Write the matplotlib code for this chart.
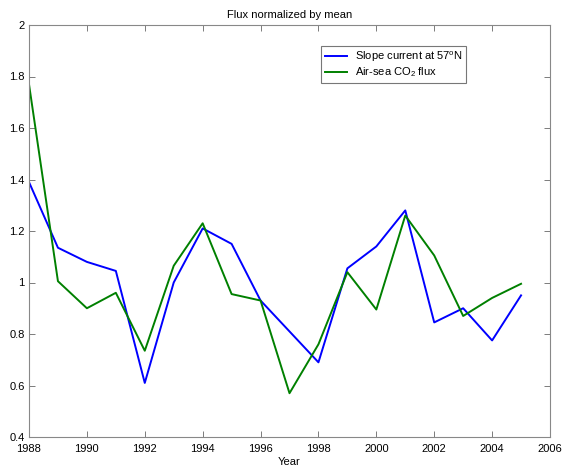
import matplotlib
matplotlib.use("Agg")
import matplotlib.pyplot as plt

plt.rcParams['font.family'] = ['Liberation Sans', 'DejaVu Sans']
plt.rcParams['mathtext.fontset'] = 'custom'
plt.rcParams['mathtext.rm'] = 'Liberation Sans'

years = list(range(1988, 2006))
slope_current = [1.39, 1.135, 1.08, 1.045, 0.61, 1.0, 1.21, 1.15, 0.93, 0.81,
                 0.69, 1.055, 1.14, 1.28, 0.845, 0.90, 0.775, 0.95]
co2_flux = [1.77, 1.005, 0.90, 0.96, 0.735, 1.065, 1.23, 0.955, 0.93, 0.57,
            0.76, 1.04, 0.895, 1.26, 1.105, 0.87, 0.94, 0.995]
xticks = list(range(1988, 2007, 2))
yticks = [0.4, 0.6, 0.8, 1.0, 1.2, 1.4, 1.6, 1.8, 2.0]
ytick_labels = ['0.4', '0.6', '0.8', '1', '1.2', '1.4', '1.6', '1.8', '2']

fig = plt.figure(figsize=(5.63, 4.66), dpi=100)
ax = fig.add_axes([29/563, 1 - 437/466, (550 - 29)/563, (437 - 25)/466])

ax.plot(years, slope_current, color='#0000ff', lw=1.4,
        label=r'Slope current at 57$^{\mathrm{o}}$N')
ax.plot(years, co2_flux, color='#008000', lw=1.4,
        label=r'Air-sea CO$_2$ flux')

ax.set_xlim(1988, 2006)
ax.set_ylim(0.4, 2.0)
ax.set_xticks(xticks)
ax.set_xticklabels([str(x) for x in xticks])
ax.set_yticks(yticks)
ax.set_yticklabels(ytick_labels)
ax.tick_params(direction='in', top=True, right=True, labelsize=8,
               length=4, width=0.6, colors='#666666', labelcolor='black')
ax.tick_params(axis='x', pad=5)
ax.tick_params(axis='y', pad=3)
for s in ax.spines.values():
    s.set_color('#888888')
    s.set_linewidth(0.8)

ax.set_title('Flux normalized by mean', fontsize=8, pad=5)
ax.set_xlabel('Year', fontsize=8, labelpad=2)

leg = ax.legend(loc='upper left', bbox_to_anchor=((321 - 29)/521, 1 - (46 - 25)/412),
                fontsize=8, frameon=True, fancybox=False, edgecolor='#555555',
                borderpad=0.35, handlelength=2.0, handletextpad=0.7,
                labelspacing=0.1, borderaxespad=0)
leg.get_frame().set_linewidth(0.8)

fig.savefig('out.png', dpi=100)
